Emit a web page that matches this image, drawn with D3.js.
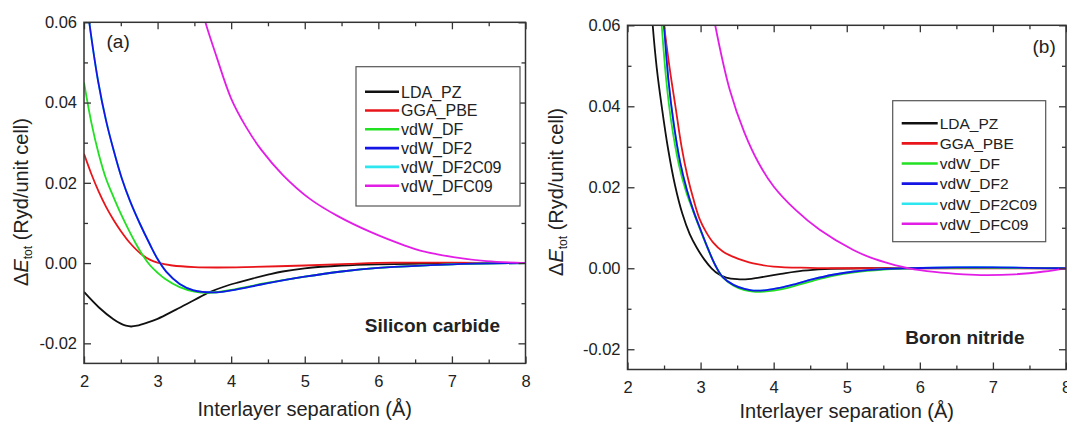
<!DOCTYPE html>
<html>
<head>
<meta charset="utf-8">
<script src="https://d3js.org/d3.v7.min.js"></script>
<style>
  body { margin: 0; background: #fff; }
  text { font-family: "Liberation Sans", Arial, sans-serif; fill: #222; }
</style>
</head>
<body>
<script>
// series names + colours (legend order)
var seriesNames  = ['LDA_PZ', 'GGA_PBE', 'vdW_DF', 'vdW_DF2', 'vdW_DF2C09', 'vdW_DFC09'];
var seriesColors = ['#111111', '#e8161b', '#22e022', '#1515e6', '#2ee6f0', '#e21ee6'];
// order the curves are painted in (index into seriesNames)
var drawOrder = [0, 1, 4, 2, 3, 5];

var xTicks = [2, 3, 4, 5, 6, 7, 8];
var xMinorTicks = [2.5, 3.5, 4.5, 5.5, 6.5, 7.5];
var yTicks = [-0.02, 0, 0.02, 0.04, 0.06];
var yMinorTicks = [-0.01, 0.01, 0.03, 0.05];

// (a) silicon carbide, [separation (A), dE (Ryd/unit cell)]
var sicLDA = [[2.0,-0.0072],[2.2,-0.0110],[2.4,-0.0140],[2.5,-0.0151],[2.57,-0.0156],[2.64,-0.0158],[2.72,-0.0156],
  [2.85,-0.0149],[3.0,-0.0139],[3.25,-0.0116],[3.5,-0.0092],[3.7,-0.0073],[3.9,-0.0059],[4.1,-0.0048],
  [4.3,-0.0038],[4.5,-0.0029],[4.7,-0.0021],[5.0,-0.0013],[5.5,-0.0006],[6.0,-0.0003],[7.0,-0.0001],[8.0,0]];
var sicPBE = [[2.0,0.0272],[2.1,0.0222],[2.2,0.0178],[2.3,0.0140],[2.4,0.0108],[2.5,0.0080],[2.625,0.0050],
  [2.78,0.0022],[2.9,0.0008],[3.0,0.0001],[3.2,-0.0006],[3.5,-0.0010],[3.8,-0.0011],[4.2,-0.0010],
  [5.0,-0.0006],[5.6,-0.0002],[6.2,0.0001],[7.0,0.0001],[8.0,0]];
var sicDF = [[2.0,0.045],[2.1,0.0350],[2.2,0.0272],[2.3,0.0210],[2.4,0.0165],[2.5,0.0123],[2.6,0.0085],
  [2.7,0.0050],[2.8,0.0019],[2.9,-0.0006],[3.0,-0.0024],[3.1,-0.0039],[3.3,-0.0060],[3.5,-0.0071],
  [3.7,-0.0074],[4.0,-0.0067],[4.5,-0.0049],[5.0,-0.0034],[5.5,-0.0021],[6.0,-0.0012],[7.0,-0.0003],[8.0,0]];
var sicDF2 = [[2.0,0.071],[2.072,0.060],[2.195,0.045],[2.3,0.0355],[2.4,0.0283],[2.512,0.0212],[2.625,0.0155],
  [2.76,0.0098],[2.9,0.0045],[3.0,0.0010],[3.12,-0.0022],[3.3,-0.0052],[3.49,-0.0068],[3.76,-0.0073],
  [4.0,-0.0068],[4.5,-0.0050],[5.0,-0.0034],[5.5,-0.0021],[6.0,-0.0012],[7.0,-0.0003],[8.0,0]];
var sicDF2C09 = [[2.0,0.071],[2.072,0.060],[2.195,0.045],[2.3,0.0355],[2.4,0.0283],[2.512,0.0212],[2.625,0.0155],
  [2.76,0.0098],[2.9,0.0045],[3.0,0.0010],[3.12,-0.0022],[3.3,-0.0052],[3.49,-0.0068],[3.76,-0.0073],
  [4.0,-0.0068],[4.5,-0.0050],[5.0,-0.0034],[5.5,-0.0021],[6.0,-0.0012],[7.0,-0.0003],[8.0,0]];
var sicDFC09 = [[3.5,0.0705],[3.65,0.060],[3.8,0.0515],[4.0,0.0410],[4.2,0.0340],[4.41,0.0282],[4.7,0.0220],
  [5.07,0.0160],[5.45,0.0117],[5.9,0.0077],[6.37,0.0043],[6.57,0.0031],[7.02,0.0015],[7.47,0.0005],[8.0,0]];

// (b) boron nitride
var bnLDA = [[2.3,0.072],[2.345,0.060],[2.4,0.0495],[2.468,0.040],[2.558,0.0292],[2.65,0.0205],[2.75,0.0135],
  [2.85,0.0085],[2.95,0.0050],[3.05,0.0022],[3.15,0.0000],[3.25,-0.0015],[3.35,-0.0023],[3.5,-0.0027],
  [3.65,-0.0027],[3.8,-0.0023],[4.1,-0.0014],[4.4,-0.0006],[4.7,-0.0002],[5.2,0],[8.0,0]];
var bnPBE = [[2.4,0.075],[2.5,0.060],[2.58,0.049],[2.66,0.0395],[2.74,0.0300],[2.82,0.0228],[2.9,0.0172],
  [2.99,0.0120],[3.08,0.0088],[3.17,0.0064],[3.3,0.0042],[3.45,0.0028],[3.6,0.0018],[3.72,0.0012],
  [4.0,0.0004],[4.5,0.0001],[5.0,0],[8.0,0]];
var bnDF = [[2.42,0.072],[2.468,0.060],[2.53,0.0465],[2.6,0.0360],[2.7,0.0258],[2.8,0.0190],[2.9,0.0140],
  [3.0,0.0093],[3.1,0.0048],[3.2,0.0008],[3.3,-0.0022],[3.45,-0.0043],[3.6,-0.0054],[3.75,-0.0058],
  [3.9,-0.0057],[4.1,-0.0052],[4.3,-0.0043],[4.54,-0.0031],[4.81,-0.0019],[5.1,-0.0010],[5.5,-0.0003],
  [5.85,0],[6.5,0.0001],[7.0,0.0001],[8.0,0]];
var bnDF2 = [[2.45,0.072],[2.50,0.060],[2.56,0.0465],[2.63,0.0360],[2.72,0.0262],[2.81,0.0195],[2.9,0.0143],
  [3.0,0.0095],[3.1,0.0049],[3.2,0.0008],[3.3,-0.0021],[3.45,-0.0041],[3.6,-0.0051],[3.72,-0.0055],
  [3.9,-0.0054],[4.1,-0.0048],[4.3,-0.0039],[4.54,-0.0027],[4.81,-0.0016],[5.1,-0.0008],[5.5,-0.0002],
  [5.85,0],[6.5,0.0002],[7.0,0.0002],[7.5,0.0001],[8.0,0]];
var bnDF2C09 = [[2.45,0.072],[2.50,0.060],[2.56,0.0465],[2.63,0.0360],[2.72,0.0262],[2.81,0.0195],[2.9,0.0143],
  [3.0,0.0095],[3.1,0.0049],[3.2,0.0008],[3.3,-0.0021],[3.45,-0.0041],[3.6,-0.0051],[3.72,-0.0055],
  [3.9,-0.0054],[4.1,-0.0048],[4.3,-0.0039],[4.54,-0.0027],[4.81,-0.0016],[5.1,-0.0008],[5.5,-0.0002],
  [5.85,0],[6.5,0.0003],[7.0,0.0003],[7.5,0.0001],[8.0,0]];
var bnDFC09 = [[3.1,0.0705],[3.2,0.060],[3.4,0.0440],[3.6,0.0335],[3.8,0.0258],[4.0,0.0202],[4.3,0.0144],
  [4.63,0.0095],[5.09,0.0045],[5.32,0.0027],[5.6,0.0011],[5.85,0],[6.2,-0.0009],[6.6,-0.0015],
  [6.9,-0.0017],[7.3,-0.0015],[7.7,-0.0008],[8.0,0]];

var W = 1067, H = 423;
var svg = d3.select('body').append('svg').attr('width', W).attr('height', H);

function drawPanel(p) {
    var x = d3.scaleLinear().domain([2, 8]).range([p.left, p.right]);
    var y = d3.scaleLinear().domain([-0.025, 0.06]).range([p.bottom, p.top]);
    var g = svg.append('g');

    g.append('clipPath').attr('id', 'clip' + p.id)
        .append('rect')
        .attr('x', p.left).attr('y', p.top)
        .attr('width', p.right - p.left).attr('height', p.bottom - p.top);

    var line = d3.line()
        .x(function(d) { return x(d[0]); })
        .y(function(d) { return y(d[1]); })
        .curve(d3.curveCatmullRom.alpha(0.5));

    var curves = g.append('g').attr('clip-path', 'url(#clip' + p.id + ')');
    drawOrder.forEach(function(i) {
        curves.append('path')
            .datum(p.series[i])
            .attr('fill', 'none')
            .attr('stroke', seriesColors[i])
            .attr('stroke-width', 1.8)
            .attr('stroke-linejoin', 'round')
            .attr('d', line);
    });

    // axes, ticks pointing inwards on all four sides
    function ax(axis, tr, vals, size, fmt, pad) {
        var a = g.append('g').attr('transform', tr)
            .call(axis.tickValues(vals).tickSizeInner(-size).tickSizeOuter(0)
                      .tickPadding(pad || 0).tickFormat(fmt));
        a.select('.domain').remove();
        a.selectAll('line').attr('stroke', '#333').attr('stroke-width', 1.3);
        a.selectAll('text').attr('font-size', 16.5).attr('fill', '#222');
        return a;
    }
    var none = function() { return ''; };
    ax(d3.axisBottom(x), 'translate(0,' + p.bottom + ')', xTicks, 7, d3.format('d'), 12);
    ax(d3.axisBottom(x), 'translate(0,' + p.bottom + ')', xMinorTicks, 4, none);
    ax(d3.axisTop(x), 'translate(0,' + p.top + ')', xTicks, 7, none);
    ax(d3.axisTop(x), 'translate(0,' + p.top + ')', xMinorTicks, 4, none);
    ax(d3.axisLeft(y), 'translate(' + p.left + ',0)', yTicks, 7, function(d) { return d.toFixed(2); }, 7);
    ax(d3.axisLeft(y), 'translate(' + p.left + ',0)', yMinorTicks, 4, none);
    ax(d3.axisRight(y), 'translate(' + p.right + ',0)', yTicks, 7, none);
    ax(d3.axisRight(y), 'translate(' + p.right + ',0)', yMinorTicks, 4, none);

    g.append('rect')
        .attr('x', p.left).attr('y', p.top)
        .attr('width', p.right - p.left).attr('height', p.bottom - p.top)
        .attr('fill', 'none').attr('stroke', '#333').attr('stroke-width', 1.5);

    // axis titles
    g.append('text')
        .attr('x', (p.left + p.right) / 2).attr('y', p.xTitleY)
        .attr('text-anchor', 'middle').attr('font-size', 20)
        .text('Interlayer separation (\u00C5)');

    var yt = g.append('text')
        .attr('transform', 'translate(' + p.yTitleX + ',' + p.yTitleY + ') rotate(-90)')
        .attr('text-anchor', 'middle').attr('font-size', 20);
    yt.append('tspan').text('\u0394');
    yt.append('tspan').attr('font-style', 'italic').text('E');
    yt.append('tspan').attr('font-size', 12).attr('dy', 4).text('tot');
    yt.append('tspan').attr('dy', -4).text(' (Ryd/unit cell)');

    // panel letter + material name
    g.append('text').attr('x', p.tagX).attr('y', p.tagY).attr('font-size', 19).text(p.tag);
    g.append('text').attr('x', p.nameX).attr('y', p.nameY)
        .attr('text-anchor', 'end').attr('font-size', 19).attr('font-weight', 'bold')
        .text(p.name);

    // legend
    var L = p.legend;
    g.append('rect')
        .attr('x', L.x).attr('y', L.y).attr('width', L.w).attr('height', L.h)
        .attr('fill', '#fff').attr('stroke', '#555').attr('stroke-width', 1.2);
    seriesNames.forEach(function(name, i) {
        var ry = L.y + L.first + i * L.step;
        g.append('line')
            .attr('x1', L.x + 9).attr('x2', L.x + 9 + L.len)
            .attr('y1', ry).attr('y2', ry)
            .attr('stroke', seriesColors[i]).attr('stroke-width', 2.6);
        g.append('text')
            .attr('x', L.x + 11 + L.len).attr('y', ry + 5.8)
            .attr('font-size', L.font).text(name);
    });
}

drawPanel({
    id: 'a', left: 84, right: 525.5, top: 22.3, bottom: 363.4,
    series: [sicLDA, sicPBE, sicDF, sicDF2, sicDF2C09, sicDFC09],
    xTitleY: 416, yTitleX: 28, yTitleY: 202,
    tag: '(a)', tagX: 106.5, tagY: 48,
    name: 'Silicon carbide', nameX: 500, nameY: 332,
    legend: { x: 356, y: 66.7, w: 164, h: 139.3, first: 25, step: 18.8, len: 34, font: 16 }
});

drawPanel({
    id: 'b', left: 627.5, right: 1066, top: 25.3, bottom: 369.5,
    series: [bnLDA, bnPBE, bnDF, bnDF2, bnDF2C09, bnDFC09],
    xTitleY: 418, yTitleX: 563, yTitleY: 192,
    tag: '(b)', tagX: 1032.5, tagY: 53,
    name: 'Boron nitride', nameX: 1024.5, nameY: 343.5,
    legend: { x: 892.7, y: 100.7, w: 153, h: 141, first: 22.6, step: 20.1, len: 36, font: 15.5 }
});
</script>
</body>
</html>
